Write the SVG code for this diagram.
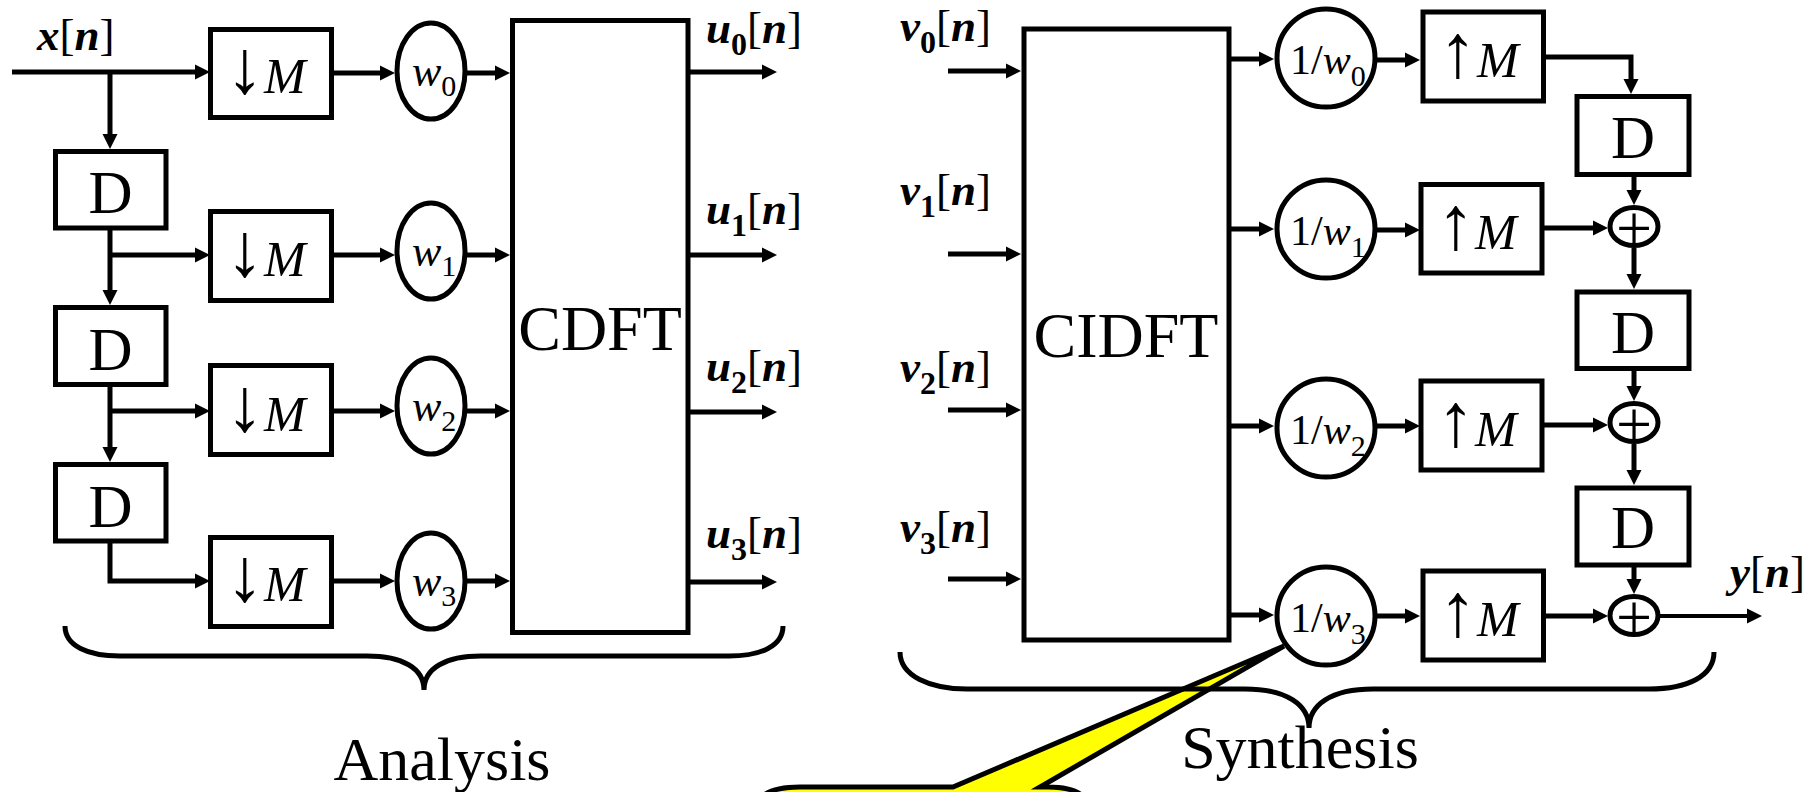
<svg xmlns="http://www.w3.org/2000/svg" width="1813" height="792" viewBox="0 0 1813 792">
<style>
.t{font-family:"Liberation Serif","Times New Roman",serif;fill:#000}
.bi{font-weight:bold;font-style:italic}
.it{font-style:italic}
.bx{fill:#fff;stroke:#000;stroke-width:5}
.ln{fill:none;stroke:#000;stroke-width:5}
.lbl{font-size:45px}
.sub{font-size:32px;font-weight:bold}
.op{font-size:50px}
.ar{font-size:76px}
.dd{font-size:61px}
.wt{font-size:44px}
.ws{font-size:30px}
.big{font-size:64px}
.cap{font-size:62px}
</style>
<defs>
<marker id="ah" markerUnits="userSpaceOnUse" markerWidth="16" markerHeight="16" refX="7" refY="8" orient="auto">
<path d="M0,0.5 L15,8 L0,15.5 Z" fill="#000"/>
</marker>
</defs>
<rect width="1813" height="792" fill="#fff"/>

<g id="callout">
<path d="M800,787 L953,787 L1284,646 L1040,787 L1048,787 Q1088,787 1088,810 L1088,900 L757,900 L757,810 Q757,787 800,787 Z" fill="#ffff00" stroke="#000" stroke-width="5" stroke-linejoin="miter"/>
</g>

<g id="connectors" class="ln" marker-end="url(#ah)">
<path d="M12,72 H202"/>
<path d="M110,72 V141"/>
<path d="M110,230 V297"/>
<path d="M110,255 H202"/>
<path d="M110,387 V454"/>
<path d="M110,411 H202"/>
<path d="M110,543 V581 H202"/>
<path d="M333,73 H387"/>
<path d="M333,255 H387"/>
<path d="M333,411 H387"/>
<path d="M333,581 H387"/>
<path d="M467,73 H502"/>
<path d="M467,255 H502"/>
<path d="M467,411 H502"/>
<path d="M467,581 H502"/>
<path d="M690,72 H769"/>
<path d="M690,255 H769"/>
<path d="M690,412 H769"/>
<path d="M690,582 H769"/>
<path d="M948,71 H1013"/>
<path d="M948,254 H1013"/>
<path d="M948,410 H1013"/>
<path d="M948,579 H1013"/>
<path d="M1231,59 H1266"/>
<path d="M1231,229 H1266"/>
<path d="M1231,426 H1266"/>
<path d="M1231,615 H1266"/>
<path d="M1377,60 H1412"/>
<path d="M1377,230 H1412"/>
<path d="M1377,426 H1412"/>
<path d="M1377,616 H1412"/>
<path d="M1545,57 H1631 V86"/>
<path d="M1634,177 V197"/>
<path d="M1544,228 H1600"/>
<path d="M1634,248 V281"/>
<path d="M1634,371 V393"/>
<path d="M1544,425 H1600"/>
<path d="M1634,444 V477"/>
<path d="M1634,567 V586"/>
<path d="M1545,616 H1600"/>
<path d="M1660,616 H1754" stroke-width="4"/>
</g>

<g id="x-label"><text class="t lbl" x="37" y="50"><tspan class="bi">x</tspan>[<tspan class="bi">n</tspan>]</text></g>

<g id="dn0"><rect class="bx" x="210.5" y="29.5" width="121" height="88"/><text class="t op" y="93"><tspan class="ar" x="226">↓</tspan><tspan class="it" x="264">M</tspan></text></g>
<g id="dn1"><rect class="bx" x="210.5" y="211.5" width="121" height="89"/><text class="t op" y="276"><tspan class="ar" x="226">↓</tspan><tspan class="it" x="264">M</tspan></text></g>
<g id="dn2"><rect class="bx" x="210.5" y="365.5" width="121" height="89"/><text class="t op" y="431"><tspan class="ar" x="226">↓</tspan><tspan class="it" x="264">M</tspan></text></g>
<g id="dn3"><rect class="bx" x="210.5" y="537.5" width="121" height="89"/><text class="t op" y="601"><tspan class="ar" x="226">↓</tspan><tspan class="it" x="264">M</tspan></text></g>

<g id="da1"><rect class="bx" x="55.5" y="151.5" width="110.5" height="76.5"/><text class="t dd" x="110.5" y="213" text-anchor="middle">D</text></g>
<g id="da2"><rect class="bx" x="55.5" y="307.5" width="110.5" height="77"/><text class="t dd" x="110.5" y="370" text-anchor="middle">D</text></g>
<g id="da3"><rect class="bx" x="55.5" y="464.5" width="110.5" height="76.5"/><text class="t dd" x="110.5" y="527" text-anchor="middle">D</text></g>

<g id="w0"><ellipse class="bx" cx="431" cy="71" rx="34" ry="48"/><text class="t wt" x="412" y="86"><tspan class="it">w</tspan><tspan class="ws" dy="10">0</tspan></text></g>
<g id="w1"><ellipse class="bx" cx="431" cy="251" rx="34" ry="48"/><text class="t wt" x="412" y="266"><tspan class="it">w</tspan><tspan class="ws" dy="10">1</tspan></text></g>
<g id="w2"><ellipse class="bx" cx="431" cy="406" rx="34" ry="48"/><text class="t wt" x="412" y="421"><tspan class="it">w</tspan><tspan class="ws" dy="10">2</tspan></text></g>
<g id="w3"><ellipse class="bx" cx="431" cy="581" rx="34" ry="48"/><text class="t wt" x="412" y="596"><tspan class="it">w</tspan><tspan class="ws" dy="10">3</tspan></text></g>

<g id="cdft"><rect class="bx" x="512.5" y="20.5" width="175.5" height="612"/><text class="t big" x="600" y="350" text-anchor="middle">CDFT</text></g>

<g id="u-labels">
<text class="t lbl" x="706" y="43"><tspan class="bi">u</tspan><tspan class="sub" dy="12">0</tspan><tspan dy="-12">[</tspan><tspan class="bi">n</tspan>]</text>
<text class="t lbl" x="706" y="224"><tspan class="bi">u</tspan><tspan class="sub" dy="12">1</tspan><tspan dy="-12">[</tspan><tspan class="bi">n</tspan>]</text>
<text class="t lbl" x="706" y="381"><tspan class="bi">u</tspan><tspan class="sub" dy="12">2</tspan><tspan dy="-12">[</tspan><tspan class="bi">n</tspan>]</text>
<text class="t lbl" x="706" y="548"><tspan class="bi">u</tspan><tspan class="sub" dy="12">3</tspan><tspan dy="-12">[</tspan><tspan class="bi">n</tspan>]</text>
</g>

<g id="v-labels">
<text class="t lbl" x="900" y="41"><tspan class="bi">v</tspan><tspan class="sub" dy="12">0</tspan><tspan dy="-12">[</tspan><tspan class="bi">n</tspan>]</text>
<text class="t lbl" x="900" y="205"><tspan class="bi">v</tspan><tspan class="sub" dy="12">1</tspan><tspan dy="-12">[</tspan><tspan class="bi">n</tspan>]</text>
<text class="t lbl" x="900" y="382"><tspan class="bi">v</tspan><tspan class="sub" dy="12">2</tspan><tspan dy="-12">[</tspan><tspan class="bi">n</tspan>]</text>
<text class="t lbl" x="900" y="542"><tspan class="bi">v</tspan><tspan class="sub" dy="12">3</tspan><tspan dy="-12">[</tspan><tspan class="bi">n</tspan>]</text>
</g>

<g id="cidft"><rect class="bx" x="1024" y="29" width="205" height="611"/><text class="t big" x="1126" y="357" text-anchor="middle">CIDFT</text></g>

<g id="iw0"><circle class="bx" cx="1326" cy="58" r="49"/><text class="t" font-size="42" x="1290" y="74">1/<tspan class="it">w</tspan><tspan font-size="30" dy="12">0</tspan></text></g>
<g id="iw1"><circle class="bx" cx="1326" cy="229" r="49"/><text class="t" font-size="42" x="1290" y="245">1/<tspan class="it">w</tspan><tspan font-size="30" dy="12">1</tspan></text></g>
<g id="iw2"><circle class="bx" cx="1326" cy="428" r="49"/><text class="t" font-size="42" x="1290" y="444">1/<tspan class="it">w</tspan><tspan font-size="30" dy="12">2</tspan></text></g>
<g id="iw3"><circle class="bx" cx="1326" cy="616" r="49"/><text class="t" font-size="42" x="1290" y="632">1/<tspan class="it">w</tspan><tspan font-size="30" dy="12">3</tspan></text></g>

<g id="up0"><rect class="bx" x="1423" y="12" width="120.5" height="89"/><text class="t op" y="77"><tspan class="ar" x="1439">↑</tspan><tspan class="it" x="1477">M</tspan></text></g>
<g id="up1"><rect class="bx" x="1421" y="184.5" width="121" height="88.5"/><text class="t op" y="249"><tspan class="ar" x="1437">↑</tspan><tspan class="it" x="1475">M</tspan></text></g>
<g id="up2"><rect class="bx" x="1421" y="381" width="121" height="89"/><text class="t op" y="446"><tspan class="ar" x="1437">↑</tspan><tspan class="it" x="1475">M</tspan></text></g>
<g id="up3"><rect class="bx" x="1423" y="571" width="120.5" height="89"/><text class="t op" y="636"><tspan class="ar" x="1439">↑</tspan><tspan class="it" x="1477">M</tspan></text></g>

<g id="ds1"><rect class="bx" x="1577" y="96.5" width="112" height="78"/><text class="t dd" x="1633" y="158" text-anchor="middle">D</text></g>
<g id="ds2"><rect class="bx" x="1577" y="292" width="112" height="76.5"/><text class="t dd" x="1633" y="353" text-anchor="middle">D</text></g>
<g id="ds3"><rect class="bx" x="1577" y="488" width="112" height="77"/><text class="t dd" x="1633" y="548" text-anchor="middle">D</text></g>

<g id="add1"><ellipse class="bx" cx="1634" cy="226.5" rx="24" ry="19"/><text class="t" font-size="64" x="1634" y="250" text-anchor="middle">+</text></g>
<g id="add2"><ellipse class="bx" cx="1634" cy="422.5" rx="24" ry="19"/><text class="t" font-size="64" x="1634" y="446" text-anchor="middle">+</text></g>
<g id="add3"><ellipse class="bx" cx="1634" cy="615.5" rx="24" ry="19"/><text class="t" font-size="64" x="1634" y="639" text-anchor="middle">+</text></g>

<g id="y-label"><text class="t lbl" x="1730" y="587"><tspan class="bi">y</tspan>[<tspan class="bi">n</tspan>]</text></g>

<g id="analysis-brace">
<path class="ln" d="M65,626 C65,646 88,656 120,656 L367,656 C402,656 424,668 424,690 C424,668 446,656 481,656 L729,656 C761,656 783,646 783,626"/>
<text class="t cap" x="442" y="780" text-anchor="middle">Analysis</text>
</g>
<g id="synthesis-brace">
<path class="ln" d="M900,652 C900,676 930,689 967,689 L1245,689 C1287,689 1309,705 1309,728 C1309,705 1331,689 1373,689 L1649,689 C1688,689 1714,676 1714,652"/>
<text class="t cap" x="1300" y="768" text-anchor="middle">Synthesis</text>
</g>
</svg>
